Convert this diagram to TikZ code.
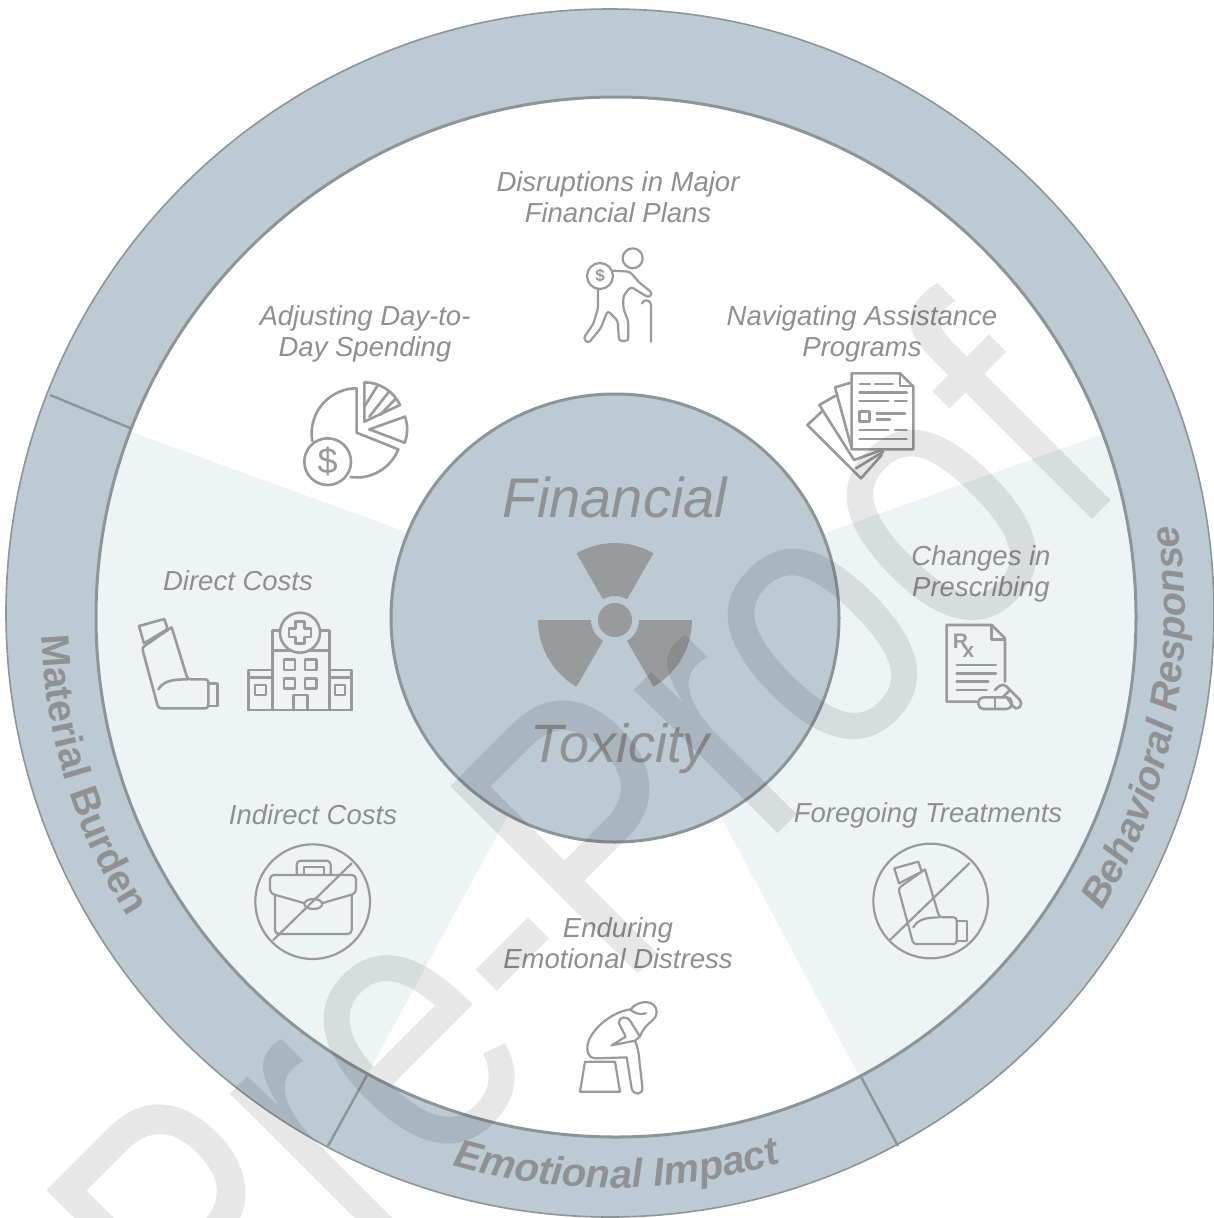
\documentclass[tikz,border=0pt]{standalone}
\usepackage{fontspec}
\setmainfont{Liberation Sans}
\usetikzlibrary{decorations.text,calc}
\definecolor{ringfill}{HTML}{BCCAD3}
\definecolor{lightfill}{HTML}{EEF3F6}
\definecolor{edgegray}{HTML}{8E9599}
\definecolor{labelgray}{HTML}{8F8F8F}
\definecolor{bigtext}{HTML}{8F9193}
\definecolor{icongray}{HTML}{9A9A9A}
\definecolor{radgray}{HTML}{989A9C}
\tikzset{
  lab/.style={font=\fontsize{27.5}{31.5}\selectfont\itshape,text=labelgray,align=center,inner sep=0pt},
  bigt/.style={text=bigtext,inner sep=0pt,font=\fontsize{56}{60}\selectfont\itshape},
  icon/.style={draw=icongray,line width=2.6pt,line join=round,line cap=round},
  thinicon/.style={icon,line width=2.2pt},
  zoomed/.style={x=0.33333pt,y=-0.33333pt},
  ringt/.style={decorate,decoration={text along path,text align=center,text={#1}}},
  divider/.style={draw=edgegray,line width=2.4pt}
}
\newcommand{\blade}[2]{\fill[radgray] ($(radc)+(#1:77)$) arc[start angle=#1,end angle=#2,radius=77] -- ($(radc)+(#2:24)$) arc[start angle=#2,end angle=#1,radius=24] -- cycle;}
\begin{document}
\begin{tikzpicture}[x=1pt,y=-1pt]
\useasboundingbox (0,0) rectangle (1214,1218);
\clip (0,0) rectangle (1214,1218);
\fill[white] (0,0) rectangle (1214,1218);
% ring
\fill[ringfill,draw=edgegray,line width=1.6pt] (610,613) circle (604);
\fill[white] (616,617) circle (520);
\begin{scope}
\clip (616,617) circle (520);
\fill[lightfill] (615,608) -- (-355,255) -- (-355,1532) -- (119,1532) -- (615,618) -- (1099,1526) -- (1605,1526) -- (1605,255) -- cycle;
\end{scope}
\draw[edgegray,line width=3pt] (616,617) circle (520);
\draw[divider] (50,395) -- (130,428);
\draw[divider] (328,1146) -- (367,1075);
\draw[divider] (860,1075) -- (898,1146);
% ring captions
\path[ringt={|\fontsize{39.5}{39.5}\selectfont\bfseries\color{bigtext}|Material Burden}] (612,615) ++(186:571) arc[start angle=186,end angle=140,radius=571];
\path[ringt={|\fontsize{40}{40}\selectfont\bfseries\itshape\color{bigtext}|Emotional Impact}] (612,615) ++(112:573) arc[start angle=112,end angle=67,radius=573];
\path[ringt={|\fontsize{39.5}{39.5}\selectfont\bfseries\itshape\color{bigtext}|Behavioral Response}] (612,615) ++(40.4:573) arc[start angle=40.4,end angle=-18.4,radius=573];
% centre
\fill[ringfill,draw=edgegray,line width=3pt] (615,618) circle (224);
\node[bigt] (fin) at (615,497) {Financial};
\node[bigt,font=\fontsize{54}{58}\selectfont\itshape] (tox) at (620,749) {Toxicity};
\coordinate (radc) at (615,620);
\blade{240}{300}
\blade{120}{180}
\blade{0}{60}
\fill[radgray] (radc) circle (17);
% labels
\node[lab] (l1) at (618,197) {Disruptions in Major\\Financial Plans};
\node[lab] (l2) at (365,334) {Adjusting Day-to-\\Day Spending};
\node[lab] (l3) at (862,334) {Navigating Assistance\\Programs};
\node[lab] (l4) at (238,581) {Direct Costs};
\node[lab] (l5) at (981,574) {Changes in\\Prescribing};
\node[lab] (l6) at (313,815) {Indirect Costs};
\node[lab] (l7) at (928,815) {Foregoing Treatments};
\node[lab] (l8) at (618,943) {Enduring\\Emotional Distress};
% icons, zoom 1 frame
\begin{scope}[shift={(240,240)},zoomed]
 % old man
 \draw[thinicon] (1178,55) circle (30);
 \draw[thinicon] (1080,108) circle (39);
 \node[text=icongray,font=\fontsize{17}{17}\selectfont\bfseries,inner sep=0pt] (dol1) at (1080,108) {\$};
 \draw[thinicon,rounded corners=3pt] (1118,92) -- (1170,95) -- (1195,125) -- (1238,160) -- (1226,173) -- (1172,140) -- (1150,168) -- (1150,205) -- (1165,245) -- (1165,303) -- (1137,303) -- (1133,242) -- (1103,212) -- (1082,265) -- (1045,310) -- (1030,295) -- (1060,252) -- (1074,205) -- (1074,147);
 \draw[thinicon] (1233,305) -- (1233,195) arc[start angle=0,end angle=-160,radius=14];
 % pie
 \draw[icon] (350,445) arc[start angle=270,end angle=170,radius=135];
 \draw[icon] (350,445) -- (350,578) -- (475,628) arc[start angle=22,end angle=98,radius=135];
 \draw[icon] (263,665) circle (70);
 \node[text=icongray,font=\fontsize{36}{36}\selectfont,inner sep=0pt] (dol2) at (263,665) {\$};
 \draw[icon] (373,427) -- (373,545) -- (480,495) arc[start angle=-25,end angle=-90,radius=118];
 \draw[icon] (373,500) -- (412,438) (388,530) -- (447,455) (420,525) -- (468,475);
 \draw[icon] (388,568) -- (495,530) arc[start angle=-19.5,end angle=21,radius=113] -- cycle;
\end{scope}
% zoom 2 frame
\begin{scope}[shift={(780,360)},zoomed]
 \draw[icon] (215,40) -- (360,40) -- (400,80) -- (400,268) -- (215,268) -- cycle;
 \draw[icon] (360,42) -- (360,78) -- (398,78);
 \draw[icon] (240,72) -- (270,72) (285,72) -- (338,72) (238,98) -- (380,98) (238,123) -- (325,123) (345,123) -- (380,123)
   (290,160) -- (375,160) (290,178) -- (330,178) (238,210) -- (325,210) (345,210) -- (380,210) (238,237) -- (380,237);
 \draw[icon] (238,155) rectangle (268,185);
 \draw[icon] (213,68) -- (165,82) -- (215,265);
 \draw[icon] (165,108) -- (118,135) -- (222,300) -- (305,270);
 \draw[icon] (125,155) -- (82,195) -- (243,355) -- (305,285);
 \draw[icon] (228,325) -- (310,275);
 % Rx
 \draw[icon] (590,1025) -- (500,1025) -- (500,795) -- (635,795) -- (675,835) -- (675,965);
 \draw[icon] (635,797) -- (635,838) -- (673,838);
 \node[text=icongray,font=\fontsize{21}{21}\selectfont\bfseries,inner sep=0pt] (rxr) at (541,843) {R};
 \node[text=icongray,font=\fontsize{21}{21}\selectfont\bfseries,inner sep=0pt] (rxx) at (565,875) {x};
 \draw[icon] (530,915) -- (648,915) (530,940) -- (648,940) (530,965) -- (625,965) (530,990) -- (620,990);
 \draw[icon,rounded corners=5pt] (595,1012) rectangle (695,1047);
 \draw[icon] (645,1012) -- (645,1047);
 \draw[icon,rounded corners=5pt] (645,990) -- (668,968) -- (730,1030) -- (708,1052) -- (680,1012);
 \draw[icon] (668,1012) -- (690,990);
\end{scope}
% zoom 3 frame
\begin{scope}[shift={(120,600)},zoomed]
 % inhaler
 \draw[icon] (57,78) -- (133,57) -- (143,87) -- (72,130) -- cycle;
 \draw[icon,rounded corners=3pt] (155,82) -- (66,143) -- (115,325) -- (265,325) -- (265,238) -- (203,238) -- (155,82);
 \draw[icon] (115,268) .. controls (130,245) and (150,238) .. (203,238);
 \draw[icon] (265,250) -- (293,250) -- (293,318) -- (265,318);
 % hospital
 \draw[icon] (458,330) -- (458,92) -- (482,92) (598,92) -- (628,92) -- (628,330);
 \draw[icon] (458,152) -- (628,152);
 \draw[icon,fill=lightfill] (540,98) circle (60);
 \draw[icon] (527,65) -- (553,65) -- (553,85) -- (573,85) -- (573,111) -- (553,111) -- (553,131) -- (527,131) -- (527,111) -- (507,111) -- (507,85) -- (527,85) -- cycle;
 \draw[icon] (385,330) -- (695,330);
 \draw[icon] (458,210) -- (385,210) -- (385,330) (628,210) -- (695,210) -- (695,330);
 \draw[icon] (385,232) -- (458,232) (628,232) -- (695,232);
 \draw[icon] (492,178) rectangle (525,210) (555,178) rectangle (590,210) (492,235) rectangle (525,265) (555,235) rectangle (590,265);
 \draw[icon] (520,330) -- (520,285) -- (562,285) -- (562,330);
 \draw[icon] (405,255) rectangle (438,285) (645,255) rectangle (675,285);
 % no work
 \draw[thinicon] (578,905) circle (172);
 \draw[thinicon,rounded corners=4pt] (530,825) -- (530,782) -- (632,782) -- (632,825);
 \draw[thinicon] (552,825) -- (552,800) -- (612,800) -- (612,825);
 \draw[thinicon,rounded corners=4pt] (555,910) -- (450,880) -- (450,825) -- (708,825) -- (708,880) -- (605,910);
 \draw[thinicon,rounded corners=4pt] (465,885) -- (465,1002) -- (695,1002) -- (695,885);
 \draw[thinicon] (580,912) ellipse (27 and 15);
 \draw[thinicon] (460,1020) -- (695,790);
\end{scope}
% zoom 4 frame
\begin{scope}[shift={(560,840)},zoomed]
 \draw[thinicon] (1112,183) circle (172);
 \draw[thinicon] (1003,85) -- (1075,65) -- (1085,95) -- (1017,130) -- cycle;
 \draw[thinicon,rounded corners=3pt] (1095,88) -- (1015,145) -- (1060,312) -- (1190,312) -- (1190,232) -- (1138,232) -- (1095,88);
 \draw[thinicon] (1060,262) .. controls (1072,240) and (1095,232) .. (1138,232);
 \draw[thinicon] (1190,243) -- (1220,243) -- (1220,302) -- (1190,302);
 \draw[thinicon] (990,300) -- (1228,70);
 % sitting person
 \draw[thinicon] (75,665) -- (165,665) -- (180,755) -- (60,755) -- cycle;
 \draw[thinicon] (212,508) .. controls (235,478) and (288,478) .. (290,515) .. controls (290,545) and (255,545) .. (240,590) -- (225,602) -- (155,616) -- (197,590) -- (176,548) .. controls (178,530) and (200,525) .. (212,545) -- (240,590);
 \draw[thinicon] (212,508) .. controls (150,515) and (80,580) .. (82,625) .. controls (83,650) and (95,655) .. (110,655) -- (200,652) -- (215,745) .. controls (220,768) and (250,765) .. (247,742) -- (238,660) .. controls (236,635) and (232,620) .. (225,602);
 \draw[thinicon] (212,510) .. controls (225,520) and (240,525) .. (258,520);
\end{scope}
% watermark
\node[anchor=base west,rotate=45,inner sep=0pt,text=black,text opacity=0.095,font=\fontsize{385}{385}\selectfont] (wm) at (216,1396) {\scalebox{0.787}[1]{Pre-Proof}};
\end{tikzpicture}
\end{document}
